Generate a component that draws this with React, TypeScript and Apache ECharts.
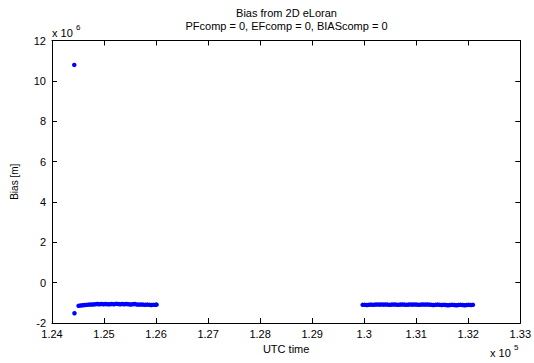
import React, { useEffect, useRef } from "react";
import * as echarts from "echarts";

// Time values in units of 10^5 s, bias in units of 10^6 m (as shown by the axis multipliers)
const xTicks = [1.24, 1.25, 1.26, 1.27, 1.28, 1.29, 1.3, 1.31, 1.32, 1.33];
const yTicks = [-2, 0, 2, 4, 6, 8, 10, 12];

const outlierT = [1.24428, 1.24432];
const outlierY = [10.79, -1.52];

const band1T = [
  1.2451, 1.2455, 1.2459, 1.2463, 1.2467, 1.2471, 1.2475, 1.2479, 1.2483, 1.2487,
  1.2491, 1.2495, 1.2499, 1.2503, 1.2507, 1.2511, 1.2515, 1.2519, 1.2523, 1.2527,
  1.2531, 1.2535, 1.2539, 1.2543, 1.2547, 1.2551, 1.2555, 1.2559, 1.2563, 1.2567,
  1.2571, 1.2575, 1.2579, 1.2583, 1.2587, 1.2591, 1.2595, 1.2599, 1.2601,
];
const band1Y = [
  -1.15, -1.13, -1.12, -1.11, -1.1, -1.09, -1.08, -1.08, -1.07, -1.06,
  -1.07, -1.06, -1.07, -1.06, -1.07, -1.07, -1.06, -1.07, -1.05, -1.06,
  -1.07, -1.06, -1.07, -1.06, -1.07, -1.08, -1.07, -1.06, -1.08, -1.09,
  -1.08, -1.09, -1.1, -1.09, -1.1, -1.11, -1.1, -1.1, -1.09,
];

const band2T = [
  1.2997, 1.3001, 1.3005, 1.3009, 1.3013, 1.3017, 1.3021, 1.3025, 1.3029, 1.3033,
  1.3037, 1.3041, 1.3045, 1.3049, 1.3053, 1.3057, 1.3061, 1.3065, 1.3069, 1.3073,
  1.3077, 1.3081, 1.3085, 1.3089, 1.3093, 1.3097, 1.3101, 1.3105, 1.3109, 1.3113,
  1.3117, 1.3121, 1.3125, 1.3129, 1.3133, 1.3137, 1.3141, 1.3145, 1.3149, 1.3153,
  1.3157, 1.3161, 1.3165, 1.3169, 1.3173, 1.3177, 1.3181, 1.3185, 1.3189, 1.3193,
  1.3197, 1.3201, 1.3205, 1.3209,
];
const band2Y = [
  -1.1, -1.1, -1.11, -1.1, -1.09, -1.1, -1.09, -1.08, -1.09, -1.08,
  -1.09, -1.08, -1.09, -1.1, -1.09, -1.08, -1.09, -1.1, -1.09, -1.08,
  -1.09, -1.1, -1.09, -1.08, -1.09, -1.08, -1.09, -1.1, -1.09, -1.08,
  -1.09, -1.08, -1.09, -1.1, -1.11, -1.1, -1.09, -1.1, -1.11, -1.1,
  -1.11, -1.12, -1.11, -1.1, -1.11, -1.12, -1.11, -1.1, -1.11, -1.12,
  -1.11, -1.1, -1.11, -1.1,
];

const FONT = "'Liberation Sans', Arial, Helvetica, sans-serif";

export default function App() {
  const ref = useRef<HTMLDivElement>(null);
  useEffect(() => {
    if (!ref.current) return;
    const chart = echarts.init(ref.current, undefined, { renderer: "svg" });
    const pts: number[][] = [];
    outlierT.forEach((t, i) => pts.push([t, outlierY[i]]));
    band1T.forEach((t, i) => pts.push([t, band1Y[i]]));
    band2T.forEach((t, i) => pts.push([t, band2Y[i]]));

    const left = 52, right = 521, top = 40.5, bottom = 323;
    const axisCommon = {
      axisLine: { show: true, onZero: false, lineStyle: { color: "#000", width: 1 } },
      axisTick: { show: true, inside: true, length: 5, lineStyle: { color: "#000" } },
      splitLine: { show: false },
    };
    chart.setOption({
      animation: false,
      backgroundColor: "#fff",
      textStyle: { fontFamily: FONT },
      grid: { left, right: 534 - right, top, bottom: 363 - bottom, containLabel: false },
      xAxis: [
        {
          type: "value",
          min: xTicks[0],
          max: xTicks[xTicks.length - 1],
          interval: 0.01,
          position: "bottom",
          name: "UTC time",
          nameLocation: "middle",
          nameGap: 20,
          nameTextStyle: { color: "#000", fontSize: 11, fontFamily: FONT },
          ...axisCommon,
          axisLabel: { color: "#000", fontSize: 11, fontFamily: FONT, margin: 5 },
        },
        {
          type: "value",
          min: xTicks[0],
          max: xTicks[xTicks.length - 1],
          interval: 0.01,
          position: "top",
          ...axisCommon,
          axisLabel: { show: false },
        },
      ],
      yAxis: [
        {
          type: "value",
          min: yTicks[0],
          max: yTicks[yTicks.length - 1],
          interval: 2,
          position: "left",
          name: "Bias [m]",
          nameLocation: "middle",
          nameGap: 33,
          nameTextStyle: { color: "#000", fontSize: 10, fontFamily: FONT },
          ...axisCommon,
          axisLabel: { color: "#000", fontSize: 11, fontFamily: FONT, margin: 6 },
        },
        {
          type: "value",
          min: yTicks[0],
          max: yTicks[yTicks.length - 1],
          interval: 2,
          position: "right",
          ...axisCommon,
          axisLabel: { show: false },
        },
      ],
      graphic: [
        {
          type: "text",
          x: (left + right) / 2,
          y: 13,
          style: {
            text: "Bias from 2D eLoran",
            fill: "#000",
            font: `11px ${FONT}`,
            textAlign: "center",
            textVerticalAlign: "middle",
          },
        },
        {
          type: "text",
          x: (left + right) / 2,
          y: 26,
          style: {
            text: "PFcomp = 0, EFcomp = 0, BIAScomp = 0",
            fill: "#000",
            font: `11px ${FONT}`,
            textAlign: "center",
            textVerticalAlign: "middle",
          },
        },
        {
          type: "text",
          x: 52,
          y: 33,
          style: {
            text: "x 10",
            fill: "#000",
            font: `11px ${FONT}`,
            textAlign: "left",
            textVerticalAlign: "middle",
          },
        },
        {
          type: "text",
          x: 76,
          y: 27,
          style: {
            text: "6",
            fill: "#000",
            font: `8px ${FONT}`,
            textAlign: "left",
            textVerticalAlign: "middle",
          },
        },
        {
          type: "text",
          x: 490,
          y: 353,
          style: {
            text: "x 10",
            fill: "#000",
            font: `11px ${FONT}`,
            textAlign: "left",
            textVerticalAlign: "middle",
          },
        },
        {
          type: "text",
          x: 514,
          y: 347,
          style: {
            text: "5",
            fill: "#000",
            font: `8px ${FONT}`,
            textAlign: "left",
            textVerticalAlign: "middle",
          },
        },
      ],
      series: [
        {
          type: "scatter",
          xAxisIndex: 0,
          yAxisIndex: 0,
          data: pts,
          symbol: "circle",
          symbolSize: 4.5,
          itemStyle: { color: "#0000ff", opacity: 1 },
          emphasis: { disabled: true },
        },
      ],
    });
    return () => chart.dispose();
  }, []);
  return <div ref={ref} style={{ width: 534, height: 363, position: "absolute", left: 0, top: 0 }} />;
}
